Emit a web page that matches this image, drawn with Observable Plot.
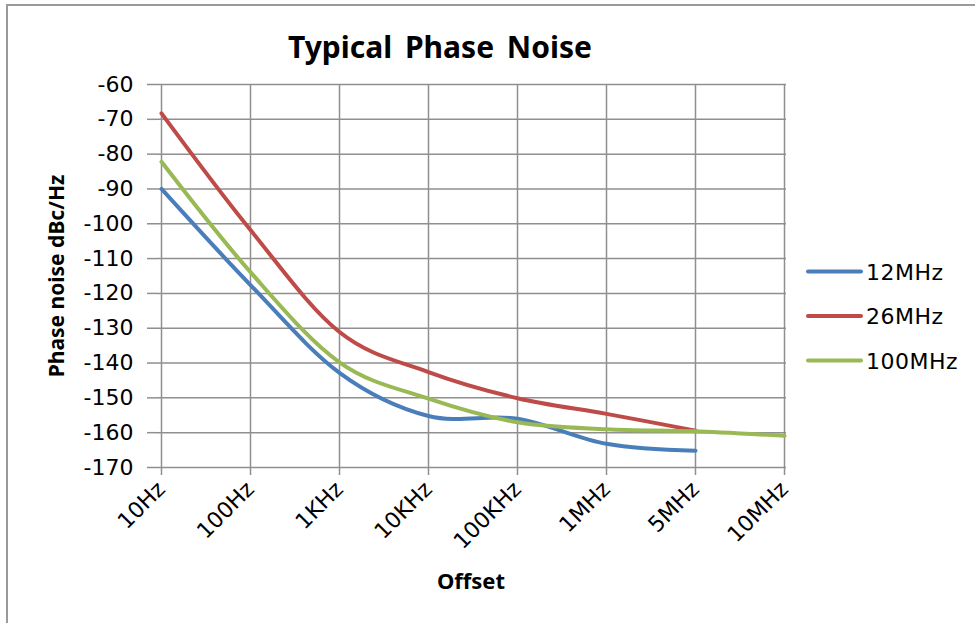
<!DOCTYPE html>
<html>
<head>
<meta charset="utf-8">
<script src="https://cdn.jsdelivr.net/npm/d3@7"></script>
<script src="https://cdn.jsdelivr.net/npm/@observablehq/plot@0.6"></script>
<style>
  html, body { margin: 0; padding: 0; background: #fff; overflow: hidden; }
  #chart { position: relative; width: 975px; height: 623px; }
</style>
</head>
<body>
<div id="chart"></div>
<script>
const offsets = ["10Hz", "100Hz", "1KHz", "10KHz", "100KHz", "1MHz", "5MHz", "10MHz"];
const seriesNames = ["12MHz", "26MHz", "100MHz"];
const seriesColors = ["#4A7EBB", "#BE4B48", "#98B954"];
const noise12 = [-90, -117.6, -142.8, -155.2, -156, -163.2, -165.2, null];
const noise26 = [-68.3, -101.8, -131.1, -142.6, -150.1, -154.6, -159.4, null];
const noise100 = [-82.2, -113.9, -139.8, -150.2, -157, -159, -159.6, -160.9];
const yTicks = [-170, -160, -150, -140, -130, -120, -110, -100, -90, -80, -70, -60];

const seriesValues = [noise12, noise26, noise100];
const rows = [];
seriesNames.forEach((name, si) => {
  seriesValues[si].forEach((v, i) => {
    if (v !== null) rows.push({series: name, offset: offsets[i], value: v});
  });
});

const grid = "#8f8f8f";
const plot = Plot.plot({
  width: 975,
  height: 623,
  marginLeft: 158,
  marginRight: 189,
  marginTop: 84,
  marginBottom: 156,
  style: {fontFamily: "DejaVu Sans", background: "#fff", color: "#000", overflow: "visible"},
  x: {type: "point", domain: offsets, padding: 0, label: null},
  y: {domain: [-170, -60], label: null},
  color: {domain: seriesNames, range: seriesColors},
  marks: [
    Plot.gridX(offsets, {stroke: grid, strokeOpacity: 1, strokeWidth: 1.5}),
    Plot.gridY(yTicks, {stroke: grid, strokeOpacity: 1, strokeWidth: 1.5}),
    Plot.axisY(yTicks, {tickSize: 11, tickPadding: 14, fontSize: 22, stroke: grid, strokeWidth: 1.5, strokeOpacity: 1, fill: "#000", label: null, tickFormat: d => String(d)}),
    Plot.axisX(offsets, {tickSize: 8, tickRotate: -45, tickPadding: 10, fontSize: 22, stroke: grid, strokeWidth: 1.5, strokeOpacity: 1, fill: "#000", label: null}),
    Plot.line(rows, {x: "offset", y: "value", z: "series", stroke: "series", curve: "cardinal", strokeWidth: 4, strokeLinecap: "round", strokeLinejoin: "round"})
  ]
});
document.getElementById("chart").appendChild(plot);

const svg = d3.select(plot);
// outer chart frame
svg.insert("rect", ":first-child")
  .attr("x", 7).attr("y", 5).attr("width", 1000).attr("height", 700)
  .attr("fill", "#fff").attr("stroke", "#9a9a9a").attr("stroke-width", 2);

svg.append("text")
  .attr("x", 440).attr("y", 58)
  .attr("text-anchor", "middle")
  .attr("font-family", "Noto Sans").attr("font-weight", "bold").attr("font-size", 30)
  .attr("word-spacing", 5)
  .text("Typical Phase Noise");

svg.append("text")
  .attr("transform", "translate(64,276) rotate(-90)")
  .attr("text-anchor", "middle")
  .attr("font-family", "Noto Sans").attr("font-weight", "bold").attr("font-size", 21)
  .text("Phase noise dBc/Hz");

svg.append("text")
  .attr("x", 471).attr("y", 589)
  .attr("text-anchor", "middle")
  .attr("font-family", "Noto Sans").attr("font-weight", "bold").attr("font-size", 22)
  .text("Offset");

const legend = svg.append("g");
seriesNames.forEach((name, i) => {
  const y = 271.5 + i * 44.5;
  legend.append("line")
    .attr("x1", 808).attr("x2", 861).attr("y1", y).attr("y2", y)
    .attr("stroke", seriesColors[i]).attr("stroke-width", 4).attr("stroke-linecap", "round");
  legend.append("text")
    .attr("x", 866).attr("y", y + 8)
    .attr("text-anchor", "start")
    .attr("font-family", "DejaVu Sans").attr("font-size", 22).attr("letter-spacing", 0.5)
    .text(name);
});
</script>
</body>
</html>
